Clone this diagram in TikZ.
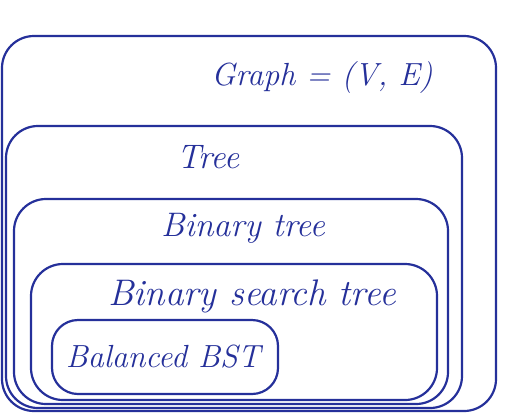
\documentclass[tikz,border=0pt]{standalone}
\usepackage{xcolor}
\usepackage{tikz}
\definecolor{penblue}{HTML}{25309A}

\begin{document}
\begin{tikzpicture}[
          x=1pt, y=-1pt,
          setbox/.style={draw=penblue, line width=2.2pt, rounded corners=32pt},
          setlabel/.style={text=penblue, font=\itshape, inner sep=0pt}
        ]
        \useasboundingbox[fill=white] (0,0) rectangle (526,413);
        % nested sets, outermost first
        \draw[setbox] (2,36) rectangle (496,411);
        \draw[setbox] (6,126) rectangle (462,408);
        \draw[setbox] (14,199) rectangle (448,404);
        \draw[setbox] (31,264) rectangle (437,400);
        \draw[setbox, rounded corners=26pt] (52,320) rectangle (278,394);
        % labels
        \node[setlabel, font=\itshape\fontsize{32}{36}\selectfont] (graph) at (322,78) {Graph = (V, E)};
        \node[setlabel, font=\itshape\fontsize{34}{38}\selectfont] (tree) at (208,157) {Tree};
        \node[setlabel, font=\itshape\fontsize{34}{38}\selectfont] (bintree) at (243,228) {Binary tree};
        \node[setlabel, font=\itshape\fontsize{37}{41}\selectfont] (bst) at (252,296) {Binary search tree};
        \node[setlabel, font=\itshape\fontsize{32}{36}\selectfont] (balanced) at (163,357) {Balanced BST};
      \end{tikzpicture}
\end{document}
